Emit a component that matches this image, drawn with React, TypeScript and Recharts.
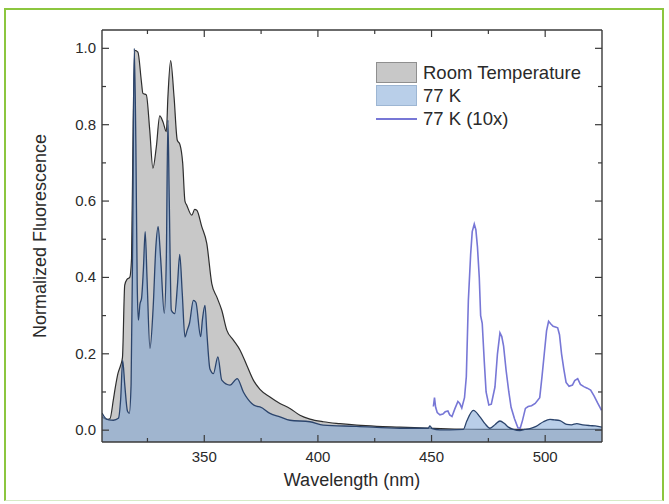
import { ComposedChart, Area, Line, XAxis, YAxis, Legend, Label } from "recharts";

// Room temperature spectrum (gray)
const rtWavelength = [
  305, 307, 308.5, 310, 310.8, 312, 313.2, 314, 315, 316, 317.2, 318, 318.7, 319.4, 320.8,
  322.3, 323, 324.5, 326, 327.4, 328.9, 330.4, 331.8, 333.3, 334, 335.2, 336.7, 338.1, 339.3,
  340.5, 341.5, 342.3, 344.5, 345.8, 346.7, 348.9, 351.1, 353.3, 355.5, 357.7, 359.9, 362.8,
  365.7, 368.7, 371.6, 374.5, 378.9, 383.3, 387.7, 392.1, 396.5, 402.4, 409.7, 417.1, 425.9,
  436.1, 449.3, 460, 475, 490, 505, 525,
];
const rtIntensity = [
  0.035, 0.028, 0.03, 0.08, 0.11, 0.148, 0.17, 0.19, 0.38, 0.395, 0.4, 0.45, 0.8, 0.995, 0.99,
  0.915, 0.882, 0.878, 0.786, 0.686, 0.742, 0.823, 0.808, 0.782, 0.873, 0.968, 0.873, 0.76, 0.748,
  0.7, 0.6, 0.589, 0.563, 0.578, 0.576, 0.533, 0.489, 0.384, 0.349, 0.314, 0.262, 0.236,
  0.21, 0.17, 0.131, 0.107, 0.087, 0.07, 0.057, 0.039, 0.029, 0.022, 0.017, 0.013, 0.01,
  0.008, 0.005, 0.003, 0.002, 0.002, 0.002, 0.002,
];

// 77 K spectrum (blue)
const k77Wavelength = [
  305, 306.3, 308, 310, 312.2, 313.2, 314.1, 315, 316.2, 317, 317.8, 318.5, 319.2, 319.9, 320.5,
  321, 321.7, 322.4, 323.2, 324, 324.8, 326.1, 327.5, 328.7, 329.7, 330.8, 332.4, 333.3, 334,
  334.6, 335.5, 337, 338.2, 339.2, 340.3, 341.5, 342.5, 343.5, 345.2, 346.3, 348.4, 349.2, 350.3,
  351.2, 352.5, 354, 356, 357.7, 361.3, 364.5, 367.2, 370.9, 373.3, 374.5, 378.9, 383.3, 387.7,
  396.5, 402.4, 417, 436, 448.5, 449.3, 450.3, 453.7, 458, 464, 465.5, 468.4, 471.3, 473.5,
  475.7, 478, 480.1, 482, 483.8, 486, 488.9, 491, 493.3, 496, 499.2, 502.1, 504, 506.5, 509.5,
  511.5, 513.9, 516.5, 519.7, 522, 525,
];
const k77Intensity = [
  0.045, 0.033, 0.027, 0.026, 0.031, 0.08, 0.183, 0.12, 0.05, 0.044, 0.12, 0.5, 1.0, 0.75, 0.38,
  0.288, 0.33, 0.345, 0.42, 0.52, 0.4, 0.214, 0.32, 0.48, 0.533, 0.45, 0.306, 0.45, 0.812,
  0.6, 0.314, 0.305, 0.38, 0.46, 0.36, 0.244, 0.262, 0.28, 0.34, 0.335, 0.245, 0.29, 0.327,
  0.25, 0.16, 0.148, 0.192, 0.131, 0.118, 0.135, 0.1, 0.07, 0.062, 0.061, 0.044, 0.035, 0.026,
  0.022, 0.013, 0.01, 0.005, 0.005, 0.011, 0.004, 0.001, 0.001, 0.002, 0.024, 0.052, 0.035, 0.017,
  0.005, 0.015, 0.024, 0.018, 0.008, 0.002, -0.001, 0.002, 0.004, 0.01, 0.022, 0.028, 0.027, 0.025, 0.015,
  0.014, 0.017, 0.014, 0.012, 0.011, 0.008,
];

// 77 K, multiplied by 10 (450-525 nm)
const k77x10Wavelength = [
  450.8, 451.3, 451.8, 452.5, 453.7, 455, 456, 457.2, 458, 459, 460.2, 461.6, 462.4, 463.3, 464.5,
  465.3, 466.2, 467.2, 467.9, 468.8, 469.5, 470.2, 471, 471.6, 472.3, 473.2, 474, 475.2, 476.3,
  477.9, 479, 480.1, 480.9, 481.7, 482.8, 484, 485, 486.5, 488, 489, 490, 491.3, 492.5, 494,
  495.6, 497.6, 498.6, 499.6, 500.6, 501.5, 502.5, 503.5, 504.5, 505.5, 506.3, 507.2, 508.2,
  509.2, 510.5, 512, 513, 514.3, 515.5, 517, 518.5, 520, 521.5, 523, 524.8,
];
const k77x10Intensity = [
  0.062, 0.085, 0.06, 0.046, 0.04, 0.042, 0.048, 0.05, 0.04, 0.036, 0.055, 0.075, 0.07, 0.058, 0.085,
  0.14, 0.34, 0.46, 0.52, 0.54, 0.525, 0.48, 0.4, 0.3, 0.28, 0.18, 0.1, 0.066, 0.068,
  0.113, 0.2, 0.255, 0.245, 0.22, 0.157, 0.1, 0.06, 0.03, 0.006, 0.005, 0.025, 0.057, 0.062, 0.064,
  0.07, 0.085, 0.14, 0.2, 0.26, 0.285, 0.278, 0.272, 0.27, 0.268, 0.25, 0.2, 0.16,
  0.125, 0.115, 0.118, 0.13, 0.135, 0.12, 0.114, 0.11, 0.105, 0.09, 0.072, 0.052,
];

const xTicks = [325, 350, 375, 400, 425, 450, 475, 500];
const yTicks = [0, 0.1, 0.2, 0.3, 0.4, 0.5, 0.6, 0.7, 0.8, 0.9, 1.0];

const zip = (xs: number[], ys: number[]) => xs.map((wl, i) => ({ wl, v: ys[i] }));
const rtData = zip(rtWavelength, rtIntensity);
const k77Data = zip(k77Wavelength, k77Intensity);
const k77x10Data = zip(k77x10Wavelength, k77x10Intensity);

const FONT = '"Liberation Sans", Arial, sans-serif';
const AXIS = "#3a3a3a";
const TEXT = "#2a2a2a";
const X_DOMAIN: [number, number] = [305, 525];
const Y_DOMAIN: [number, number] = [-0.031, 1.048];

const isMajorX = (v: number) => v % 50 === 0;
const isMajorY = (v: number) => Math.round(v * 10) % 2 === 0;

function BottomTick({ x, y, payload }: any) {
  const major = isMajorX(payload.value);
  return (
    <g>
      <line x1={x} x2={x} y1={y} y2={y - (major ? 7 : 4)} stroke={AXIS} strokeWidth={1.2} />
      {major && (
        <text x={x} y={y + 20} textAnchor="middle" fontSize={15} fontFamily={FONT} fill={TEXT}>
          {payload.value}
        </text>
      )}
    </g>
  );
}

function TopTick({ x, y, payload }: any) {
  const major = isMajorX(payload.value);
  return <line x1={x} x2={x} y1={y} y2={y + (major ? 7 : 4)} stroke={AXIS} strokeWidth={1.2} />;
}

function LeftTick({ x, y, payload }: any) {
  const major = isMajorY(payload.value);
  return (
    <g>
      <line x1={x} x2={x + (major ? 7 : 4)} y1={y} y2={y} stroke={AXIS} strokeWidth={1.2} />
      {major && (
        <text x={x - 6} y={y + 5} textAnchor="end" fontSize={15} fontFamily={FONT} fill={TEXT}>
          {payload.value.toFixed(1)}
        </text>
      )}
    </g>
  );
}

function RightTick({ x, y, payload }: any) {
  const major = isMajorY(payload.value);
  return <line x1={x} x2={x - (major ? 7 : 4)} y1={y} y2={y} stroke={AXIS} strokeWidth={1.2} />;
}

function XTitle({ viewBox }: any) {
  return (
    <text
      x={viewBox.x + viewBox.width / 2}
      y={viewBox.y + 44}
      textAnchor="middle"
      fontSize={18}
      fontFamily={FONT}
      fill={TEXT}
    >
      Wavelength (nm)
    </text>
  );
}

function YTitle({ viewBox }: any) {
  const cx = viewBox.x + 40;
  const cy = viewBox.y + viewBox.height / 2;
  return (
    <text
      x={cx}
      y={cy}
      transform={`rotate(-90 ${cx} ${cy})`}
      textAnchor="middle"
      dominantBaseline="central"
      fontSize={18}
      fontFamily={FONT}
      fill={TEXT}
    >
      Normalized Fluorescence
    </text>
  );
}

const legendItems = [
  { label: "Room Temperature", kind: "box", fill: "#c8c8c8", border: "#8f8f8f" },
  { label: "77 K", kind: "box", fill: "#b9cfe9", border: "#9db6d3" },
  { label: "77 K (10x)", kind: "line", fill: "#7777d6", border: "#7777d6" },
];

function LegendBox() {
  return (
    <div style={{ fontFamily: FONT, fontSize: 18.5, color: TEXT }}>
      {legendItems.map((it) => (
        <div key={it.label} style={{ display: "flex", alignItems: "center", height: 23 }}>
          {it.kind === "box" ? (
            <div
              style={{
                width: 39,
                height: 19,
                background: it.fill,
                border: `1px solid ${it.border}`,
              }}
            />
          ) : (
            <div style={{ width: 41, height: 2, background: it.fill }} />
          )}
          <span style={{ marginLeft: 6, lineHeight: "23px" }}>{it.label}</span>
        </div>
      ))}
    </div>
  );
}

export default function App() {
  return (
    <div style={{ position: "absolute", left: 0, top: 0, width: 669, height: 504, background: "#fff" }}>
      <div
        style={{
          position: "absolute",
          left: 4,
          top: 8,
          width: 656,
          height: 490,
          borderLeft: "2px solid #8cc63f",
          borderTop: "2px solid #8cc63f",
          borderRight: "2px solid #8cc63f",
          borderBottom: "1px solid #d6eac6",
        }}
      />
      <div style={{ position: "absolute", left: 0, top: 0 }}>
        <ComposedChart width={669} height={504} margin={{ top: 29, right: 66, bottom: 0, left: 0 }}>
          <XAxis
            xAxisId="bottom"
            dataKey="wl"
            type="number"
            domain={X_DOMAIN}
            allowDataOverflow
            ticks={xTicks}
            interval={0}
            height={62}
            tickSize={0}
            tickMargin={0}
            tickLine={false}
            tick={<BottomTick />}
            axisLine={{ stroke: AXIS, strokeWidth: 1.4 }}
            label={<Label content={<XTitle />} />}
          />
          <XAxis
            xAxisId="top"
            orientation="top"
            dataKey="wl"
            type="number"
            domain={X_DOMAIN}
            allowDataOverflow
            ticks={xTicks}
            interval={0}
            height={1}
            tickSize={0}
            tickMargin={0}
            tickLine={false}
            tick={<TopTick />}
            axisLine={{ stroke: AXIS, strokeWidth: 1.4 }}
          />
          <YAxis
            yAxisId="left"
            type="number"
            domain={Y_DOMAIN}
            allowDataOverflow
            ticks={yTicks}
            interval={0}
            width={102}
            tickSize={0}
            tickMargin={0}
            tickLine={false}
            tick={<LeftTick />}
            axisLine={{ stroke: AXIS, strokeWidth: 1.4 }}
            label={<Label content={<YTitle />} />}
          />
          <YAxis
            yAxisId="right"
            orientation="right"
            type="number"
            domain={Y_DOMAIN}
            allowDataOverflow
            ticks={yTicks}
            interval={0}
            width={1}
            tickSize={0}
            tickMargin={0}
            tickLine={false}
            tick={<RightTick />}
            axisLine={{ stroke: AXIS, strokeWidth: 1.4 }}
          />
          <Legend
            layout="vertical"
            align="center"
            verticalAlign="middle"
            wrapperStyle={{ left: 376, top: 61, width: "auto" }}
            content={<LegendBox />}
          />
          <Area
            xAxisId="bottom"
            yAxisId="left"
            data={rtData}
            dataKey="v"
            name="Room Temperature"
            type="monotone"
            baseValue="dataMin"
            stroke="#2e2e2e"
            strokeWidth={1.2}
            fill="#c8c8c8"
            fillOpacity={1}
            isAnimationActive={false}
          />
          <Area
            xAxisId="bottom"
            yAxisId="left"
            data={k77Data}
            dataKey="v"
            name="77 K"
            type="monotone"
            baseValue="dataMin"
            stroke="#2b446c"
            strokeWidth={1.3}
            fill="#7fa5d5"
            fillOpacity={0.55}
            isAnimationActive={false}
          />
          <Line
            xAxisId="top"
            yAxisId="right"
            data={k77x10Data}
            dataKey="v"
            name="77 K (10x)"
            type="linear"
            stroke="#7777d6"
            strokeWidth={1.6}
            dot={false}
            isAnimationActive={false}
          />
        </ComposedChart>
      </div>
    </div>
  );
}
